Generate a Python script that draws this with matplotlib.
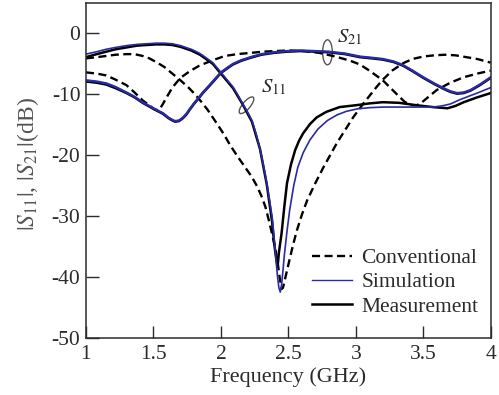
import numpy as np
import matplotlib
matplotlib.use("Agg")
import matplotlib.pyplot as plt
from matplotlib.lines import Line2D
from matplotlib.patches import Ellipse
from matplotlib.transforms import Affine2D, ScaledTranslation

plt.rcParams["font.family"] = ["Liberation Serif", "DejaVu Serif"]
plt.rcParams["mathtext.fontset"] = "stix"

# ---- data (frequency in GHz, magnitude in dB) ----
conv_s11_f = [1.00, 1.08, 1.15, 1.22, 1.30, 1.36, 1.42, 1.47, 1.52, 1.58, 1.64, 1.70, 1.76,
              1.80, 1.85, 1.90, 1.97, 2.02, 2.07, 2.12, 2.18, 2.23, 2.27, 2.30, 2.33, 2.36,
              2.38, 2.40, 2.42, 2.435, 2.45, 2.46, 2.475, 2.50, 2.53, 2.56, 2.60, 2.64, 2.70,
              2.76, 2.81, 2.86, 2.90, 2.94, 2.98, 3.02, 3.06, 3.10, 3.15, 3.20, 3.27, 3.35,
              3.42, 3.50, 3.58, 3.66, 3.74, 3.82, 3.90, 4.00]
conv_s11 = [-4.1, -3.9, -3.7, -3.5, -3.4, -3.4, -3.7, -4.1, -4.7, -5.5, -6.6, -7.7, -8.9,
            -9.8, -11.1, -12.5, -14.8, -16.5, -18.4, -20.1, -22.0, -23.6, -25.2, -26.7, -28.5, -31.1,
            -33.0, -35.0, -37.5, -40.0, -42.0, -41.8, -40.4, -38.0, -35.2, -32.6, -29.8, -27.4, -24.6,
            -22.0, -20.0, -18.0, -16.6, -15.2, -13.8, -12.6, -11.4, -10.3, -8.9, -7.6, -6.1, -4.9,
            -4.2, -3.8, -3.6, -3.5, -3.6, -3.9, -4.2, -4.8]

conv_s21_f = [1.00, 1.08, 1.15, 1.22, 1.30, 1.36, 1.42, 1.48, 1.51, 1.53, 1.55, 1.57, 1.59,
              1.64, 1.70, 1.77, 1.84, 1.94, 2.03, 2.12, 2.22, 2.31, 2.40, 2.50, 2.62, 2.73,
              2.85, 2.96, 3.03, 3.10, 3.20, 3.30, 3.36, 3.39, 3.42, 3.45, 3.48, 3.54, 3.60,
              3.70, 3.80, 3.90, 4.00]
conv_s21 = [-6.4, -6.6, -6.9, -7.6, -8.5, -9.7, -11.0, -12.0, -12.5, -12.6, -12.3, -11.6, -10.8,
            -8.9, -7.3, -6.2, -5.3, -4.4, -3.7, -3.4, -3.2, -3.0, -2.9, -2.8, -2.9, -3.2,
            -3.8, -4.5, -5.1, -6.1, -7.7, -9.9, -11.2, -11.6, -11.8, -11.8, -11.5, -10.4, -9.3,
            -8.1, -7.2, -6.6, -6.1]

sim_s11_f = [1.00, 1.08, 1.15, 1.22, 1.30, 1.38, 1.45, 1.52, 1.58, 1.64, 1.70, 1.74, 1.78,
             1.81, 1.845, 1.89, 1.94, 1.97, 2.00, 2.045, 2.09, 2.125, 2.16, 2.195, 2.23, 2.26,
             2.29, 2.315, 2.34, 2.36, 2.38, 2.39, 2.40, 2.41, 2.42, 2.43, 2.44, 2.45, 2.46,
             2.47, 2.49, 2.51, 2.54, 2.57, 2.61, 2.66, 2.72, 2.79, 2.86, 2.93, 3.01, 3.10,
             3.20, 3.30, 3.45, 3.57, 3.64, 3.70, 3.77, 3.84, 3.90, 4.00]
sim_s11 = [-3.4, -3.0, -2.6, -2.3, -2.0, -1.8, -1.7, -1.6, -1.6, -1.7, -2.0, -2.3, -2.6,
           -2.9, -3.3, -4.0, -4.8, -5.6, -6.4, -7.6, -8.8, -10.1, -11.5, -12.8, -14.3, -16.4,
           -19.0, -21.6, -24.6, -27.3, -30.2, -32.5, -35.0, -37.6, -40.0, -41.8, -42.5, -41.3, -39.0,
           -36.5, -32.5, -29.0, -25.0, -22.0, -19.6, -17.5, -15.7, -14.3, -13.4, -12.8, -12.4, -12.2,
           -12.1, -12.1, -12.1, -12.1, -11.9, -11.6, -10.9, -10.3, -9.8, -8.9]

meas_s11_f = [1.00, 1.08, 1.15, 1.22, 1.30, 1.38, 1.45, 1.52, 1.58, 1.64, 1.70, 1.78, 1.845,
              1.89, 1.94, 2.00, 2.045, 2.09, 2.16, 2.23, 2.29, 2.34, 2.38, 2.395, 2.41, 2.42,
              2.43, 2.45, 2.47, 2.49, 2.52, 2.55, 2.58, 2.61, 2.66, 2.71, 2.78, 2.88, 3.00,
              3.10, 3.20, 3.32, 3.45, 3.57, 3.68, 3.74, 3.80, 3.90, 4.00]
meas_s11 = [-3.9, -3.4, -3.0, -2.6, -2.3, -2.0, -1.9, -1.8, -1.8, -1.9, -2.2, -2.8, -3.5,
            -4.2, -5.0, -6.6, -7.8, -9.0, -11.6, -14.5, -19.0, -24.8, -31.0, -34.5, -37.0, -38.4,
            -36.0, -32.8, -28.5, -24.6, -21.5, -19.2, -17.6, -16.4, -14.9, -13.8, -12.9, -12.1, -11.8,
            -11.5, -11.3, -11.4, -11.8, -12.1, -12.3, -11.9, -11.3, -10.5, -9.8]

sim_s21_f = [1.00, 1.08, 1.15, 1.22, 1.30, 1.36, 1.42, 1.50, 1.57, 1.61, 1.64, 1.66, 1.69,
             1.72, 1.745, 1.77, 1.80, 1.83, 1.87, 1.92, 1.96, 2.00, 2.05, 2.09, 2.15, 2.22,
             2.30, 2.39, 2.49, 2.59, 2.70, 2.80, 2.92, 3.03, 3.12, 3.20, 3.28, 3.35, 3.42,
             3.50, 3.58, 3.65, 3.70, 3.75, 3.80, 3.85, 3.92, 4.00]
sim_s21 = [-7.7, -7.9, -8.2, -8.8, -9.7, -10.4, -11.3, -12.3, -13.1, -13.8, -14.2, -14.4, -14.3,
           -13.8, -13.2, -12.4, -11.5, -10.7, -9.6, -8.4, -7.4, -6.4, -5.6, -5.0, -4.4, -3.9,
           -3.4, -3.1, -2.9, -2.8, -2.9, -3.0, -3.3, -3.8, -4.0, -4.2, -4.6, -5.2, -6.1,
           -7.2, -8.2, -9.0, -9.5, -9.8, -9.7, -9.3, -8.4, -7.2]

meas_s21_f = [1.00, 1.08, 1.15, 1.22, 1.30, 1.36, 1.42, 1.50, 1.57, 1.61, 1.64, 1.66, 1.69,
              1.72, 1.745, 1.77, 1.80, 1.83, 1.87, 1.92, 1.96, 2.00, 2.05, 2.09, 2.15, 2.22,
              2.30, 2.39, 2.49, 2.59, 2.70, 2.80, 2.92, 3.03, 3.12, 3.20, 3.28, 3.35, 3.42,
              3.50, 3.58, 3.65, 3.70, 3.75, 3.80, 3.85, 3.92, 4.00]
meas_s21 = [-7.9, -8.1, -8.4, -9.0, -9.8, -10.5, -11.4, -12.4, -13.2, -13.9, -14.3, -14.5, -14.4,
            -13.9, -13.3, -12.5, -11.6, -10.8, -9.7, -8.5, -7.5, -6.5, -5.7, -5.1, -4.5, -4.0,
            -3.5, -3.2, -3.0, -2.9, -3.0, -3.1, -3.4, -3.9, -4.1, -4.3, -4.7, -5.3, -6.2,
            -7.3, -8.3, -9.1, -9.6, -9.9, -9.8, -9.4, -8.5, -7.3]

x_ticks = [1, 1.5, 2, 2.5, 3, 3.5, 4]
x_tick_labels = ["1", "1.5", "2", "2.5", "3", "3.5", "4"]
y_ticks = [0, -10, -20, -30, -40, -50]
y_tick_labels = ["0", "-10", "-20", "-30", "-40", "-50"]

blue = "#2a2aa6"
ink = "#2b2b2b"
dash = (0, (3.4, 1.9))

fig = plt.figure(figsize=(4.99, 3.95), dpi=100)
ax = fig.add_axes([0.1723, 0.145, 0.8111, 0.8474])

ax.plot(conv_s11_f, conv_s11, color="black", lw=1.7, linestyle=dash)
ax.plot(conv_s21_f, conv_s21, color="black", lw=1.7, linestyle=dash)
ax.plot(meas_s11_f, meas_s11, color="black", lw=1.8)
ax.plot(meas_s21_f, meas_s21, color="black", lw=1.8)
ax.plot(sim_s11_f, sim_s11, color=blue, lw=1.2)
ax.plot(sim_s21_f, sim_s21, color=blue, lw=1.7)

ax.set_xlim(1, 4)
ax.set_ylim(-50, 5)
ax.set_xticks(x_ticks)
ax.set_xticklabels(x_tick_labels)
ax.set_yticks(y_ticks)
ax.set_yticklabels(y_tick_labels)
ax.tick_params(direction="in", length=9, width=1.0, colors=ink, labelsize=15.5)
ax.tick_params(axis="x", pad=5)
ax.tick_params(axis="y", pad=4)
for s in ax.spines.values():
    s.set_color(ink)
    s.set_linewidth(1.1)

ax.set_xlabel("Frequency (GHz)", fontsize=16, color=ink)
ax.xaxis.set_label_coords(0.5, -0.088)
ax.set_ylabel(r"$|S_{11}|$, $|S_{21}|$(dB)", fontsize=17, color="#555555")
ax.yaxis.set_label_coords(-0.112, 0.52)

# curve markers: small ellipse around each trace with its name
def ring(cx, cy, w, h, angle):
    tr = Affine2D().scale(fig.dpi / 72.0) + ScaledTranslation(cx, cy, ax.transData)
    ax.add_patch(Ellipse((0, 0), w, h, angle=angle, fill=False, edgecolor="#555555",
                         lw=1.0, transform=tr, clip_on=False))

ring(2.79, -3.1, 7.0, 18.0, 0)
ax.text(2.86, -0.6, r"$S_{21}$", fontsize=15, color=ink, ha="left", va="center")
ring(2.19, -11.8, 5.5, 15.0, -40)
ax.text(2.3, -8.8, r"$S_{11}$", fontsize=15, color=ink, ha="left", va="center")

handles = [
    Line2D([], [], color="black", lw=1.7, linestyle=dash),
    Line2D([], [], color=blue, lw=1.0),
    Line2D([], [], color="black", lw=1.8),
]
ax.legend(handles, ["Conventional", "Simulation", "Measurement"], loc="upper left",
          bbox_to_anchor=(0.558, 0.268), frameon=False, fontsize=15.5, handlelength=1.85,
          handletextpad=0.45, labelspacing=0.2, borderpad=0, borderaxespad=0,
          labelcolor=ink)

fig.savefig("out.png", dpi=100)
